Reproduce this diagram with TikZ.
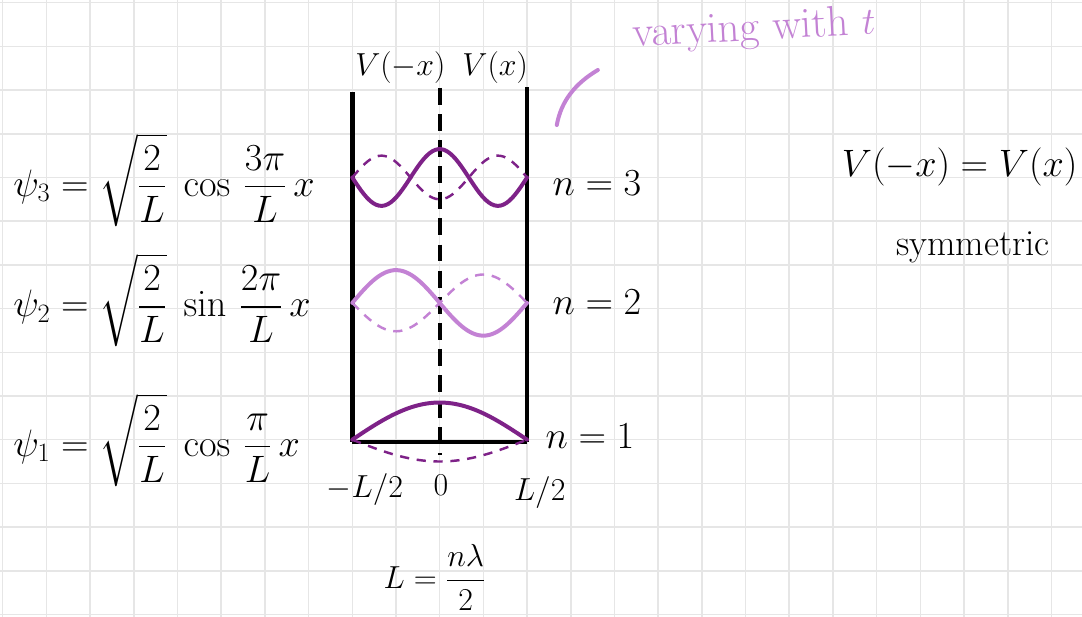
\documentclass[tikz,border=0pt]{standalone}
\usepackage{amsmath}
\usepackage{tikz}
\usetikzlibrary{calc}
\definecolor{darkpurple}{HTML}{7E2288}
\definecolor{lightpurple}{HTML}{C382D4}
\definecolor{gridgray}{HTML}{E6E6E6}
\tikzset{
  wall/.style={line width=3pt},
  solidwave/.style={line width=2.6pt,line cap=round},
  dashwave/.style={line width=1.6pt,dash pattern=on 6pt off 5pt},
  hand/.style={font=\fontsize{22}{26}\selectfont,inner sep=1pt},
  bighand/.style={font=\fontsize{24}{28}\selectfont,inner sep=1pt},
}

\begin{document}
\begin{tikzpicture}
		\useasboundingbox (-0.062,-0.057) rectangle (24.70,14.062);
		\draw[gridgray,line width=1pt] (-0.062,-0.057) grid (24.70,14.062);
		\coordinate (BL) at (8,3.95);
		\coordinate (BR) at (12,3.95);
		\coordinate (TL) at (8,11.96);
		\coordinate (TR) at (12,12.07);
		\coordinate (CT) at (10,12.05);
		\coordinate (CB) at (10,3.65);
		\draw[wall] (BL) -- (TL);
		\draw[wall] (BR) -- (TR);
		\draw[wall] (BL) -- (BR);
		\draw[line width=2.4pt,dash pattern=on 11pt off 6pt] (CT) -- (CB);
		% n = 1
		\draw[solidwave,darkpurple] plot[domain=8:12,samples=60] (\x,{4+0.85*sin(45*(\x-8))});
		\draw[dashwave,darkpurple] plot[domain=8:12,samples=60] (\x,{4-0.5*sin(45*(\x-8))});
		% n = 2
		\draw[solidwave,lightpurple] plot[domain=8:12,samples=60] (\x,{7.13+0.75*sin(90*(\x-8))});
		\draw[dashwave,lightpurple] plot[domain=8:12,samples=60] (\x,{7.13-0.65*sin(90*(\x-8))});
		% n = 3
		\draw[solidwave,darkpurple] plot[domain=8:12,samples=60] (\x,{10+0.65*cos(135*(\x-10))});
		\draw[dashwave,darkpurple] plot[domain=8:12,samples=60] (\x,{10-0.5*cos(135*(\x-10))});
		% labels
		\node[bighand,anchor=west] (psi3) at (0.2,9.95) {$\displaystyle \psi_3=\sqrt{\frac{2}{L}}\;\cos\,\frac{3\pi}{L}\,x$};
		\node[bighand,anchor=west] (psi2) at (0.2,7.2) {$\displaystyle \psi_2=\sqrt{\frac{2}{L}}\;\sin\,\frac{2\pi}{L}\,x$};
		\node[bighand,anchor=west] (psi1) at (0.2,4.0) {$\displaystyle \psi_1=\sqrt{\frac{2}{L}}\;\cos\,\frac{\pi}{L}\,x$};
		\node[bighand] (n3) at (13.6,9.87) {$n=3$};
		\node[bighand] (n2) at (13.6,7.15) {$n=2$};
		\node[bighand] (n1) at (13.44,4.08) {$n=1$};
		\node[hand] (vm) at (9.1,12.51) {$V(-x)$};
		\node[hand] (vp) at (11.27,12.51) {$V(x)$};
		\node[hand] (xl) at (8.29,2.85) {$-L/2$};
		\node[hand] (x0) at (10.03,2.96) {$0$};
		\node[hand] (xr) at (12.29,2.78) {$L/2$};
		\node[hand] (len) at (9.89,0.85) {$\displaystyle L=\frac{n\lambda}{2}$};
		\node[bighand] (sym) at (21.9,10.25) {$V(-x)=V(x)$};
		\node[bighand] (symtxt) at (22.2,8.39) {symmetric};
		\node[font=\fontsize{28}{32}\selectfont,lightpurple,rotate=3,inner sep=1pt] (vary) at (17.2,13.38) {varying with $t$};
		\coordinate (M1) at (12.68,11.2);
		\coordinate (M2) at (13.62,12.46);
		\draw[lightpurple,line width=2.6pt,line cap=round] (M1) .. controls (12.78,11.75) and (13.1,12.15) .. (M2);
	\end{tikzpicture}
\end{document}
